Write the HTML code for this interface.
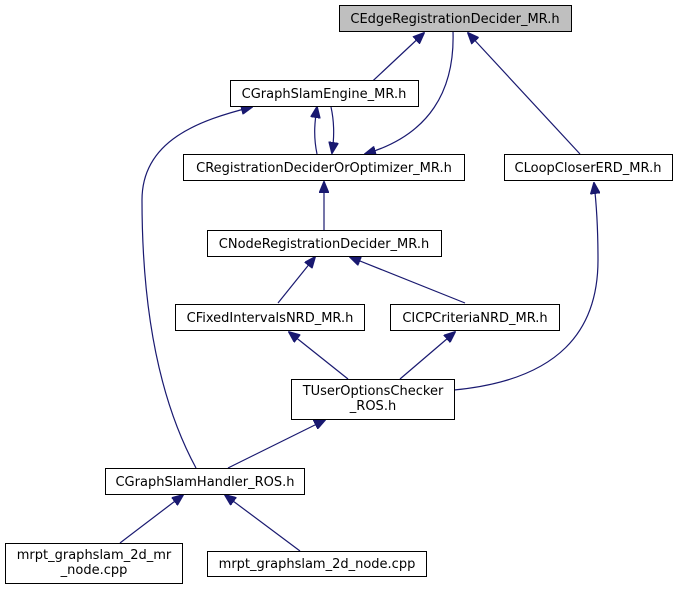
<!DOCTYPE html>
<html><head><style>body{margin:0;background:#fff}text{font-family:"DejaVu Sans","Liberation Sans",sans-serif;font-size:13px;fill:#000}</style></head><body>
<svg width="681" height="589" xmlns="http://www.w3.org/2000/svg">
<defs><marker id="a" markerWidth="12" markerHeight="10" refX="11" refY="5" orient="auto" markerUnits="userSpaceOnUse"><path d="M0,0 L12,5 L0,10 Z" fill="#191970" stroke="#191970"/></marker></defs>
<g fill="none" stroke="#191970" stroke-width="1.2">
<path d="M346,106 L424,33" marker-end="url(#a)"/>
<path d="M453,31 C455,90 430,135 365,154" marker-end="url(#a)"/>
<path d="M580,154 L468,33" marker-end="url(#a)"/>
<path d="M317,154 C313,135 315,120 317,107" marker-end="url(#a)"/>
<path d="M331,107 C335,125 334,140 332,153" marker-end="url(#a)"/>
<path d="M196,468 C170,420 142,340 142,200 C142,140 200,120 252,107" marker-end="url(#a)"/>
<path d="M324,230 L324,182" marker-end="url(#a)"/>
<path d="M278,303 L315,257" marker-end="url(#a)"/>
<path d="M465,303 L350,257" marker-end="url(#a)"/>
<path d="M348,379 L289,332" marker-end="url(#a)"/>
<path d="M400,379 L455,332" marker-end="url(#a)"/>
<path d="M454,390 C560,380 598,330 598,260 C598,230 596,200 594,183" marker-end="url(#a)"/>
<path d="M228,468 L325,420" marker-end="url(#a)"/>
<path d="M120,543 L183,495" marker-end="url(#a)"/>
<path d="M300,551 L225,495" marker-end="url(#a)"/>
</g>
<g stroke="#000" stroke-width="1" fill="#fff">
<rect x="339.5" y="5.5" width="232" height="26" fill="#bfbfbf"/>
<rect x="230.5" y="80.5" width="188" height="26"/>
<rect x="183.5" y="154.5" width="281" height="26"/>
<rect x="504.5" y="154.5" width="168" height="26"/>
<rect x="207.5" y="230.5" width="234" height="26"/>
<rect x="175.5" y="304.5" width="189" height="26"/>
<rect x="390.5" y="304.5" width="169" height="26"/>
<rect x="291.5" y="379.5" width="163" height="40"/>
<rect x="105.5" y="468.5" width="199" height="26"/>
<rect x="5.5" y="543.5" width="177" height="40"/>
<rect x="207.5" y="551.5" width="219" height="25"/>
</g>
<g text-anchor="middle">
<text x="455" y="23">CEdgeRegistrationDecider_MR.h</text>
<text x="324" y="98">CGraphSlamEngine_MR.h</text>
<text x="324" y="172">CRegistrationDeciderOrOptimizer_MR.h</text>
<text x="588" y="172">CLoopCloserERD_MR.h</text>
<text x="324" y="248">CNodeRegistrationDecider_MR.h</text>
<text x="270" y="322">CFixedIntervalsNRD_MR.h</text>
<text x="475" y="322">CICPCriteriaNRD_MR.h</text>
<text x="373" y="395">TUserOptionsChecker</text>
<text x="373" y="410">_ROS.h</text>
<text x="205" y="486">CGraphSlamHandler_ROS.h</text>
<text x="94" y="559">mrpt_graphslam_2d_mr</text>
<text x="94" y="574">_node.cpp</text>
<text x="317" y="568">mrpt_graphslam_2d_node.cpp</text>
</g>
</svg>
</body></html>
